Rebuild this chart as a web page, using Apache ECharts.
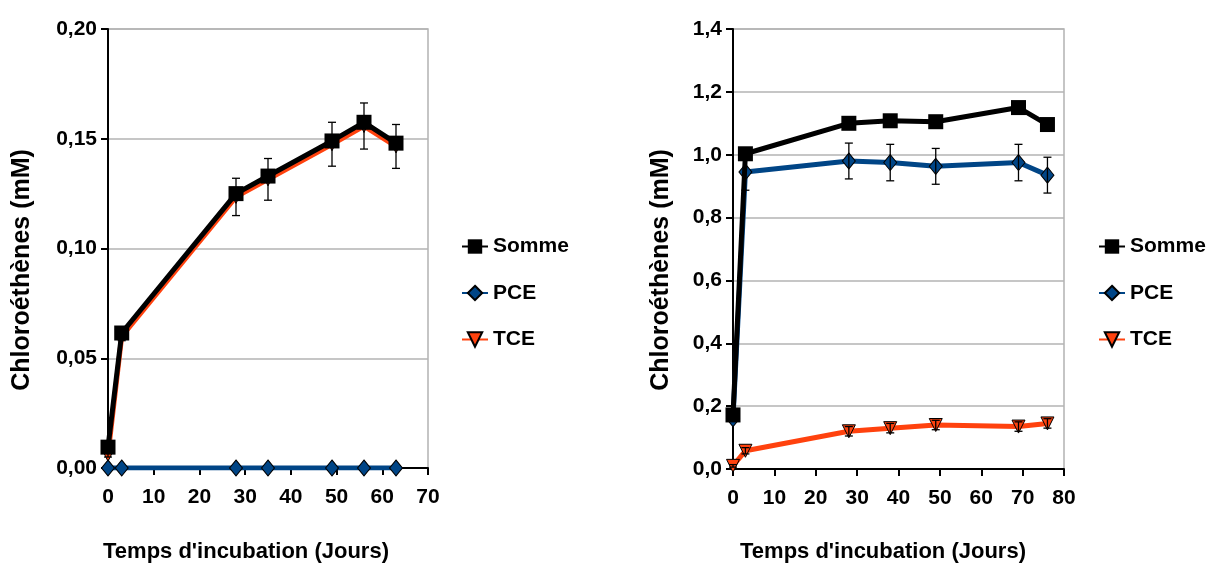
<!DOCTYPE html>
<html>
<head>
<meta charset="utf-8">
<script src="https://cdn.jsdelivr.net/npm/echarts@6/dist/echarts.min.js"></script>
<style>
html,body{margin:0;padding:0;background:#fff;}
#c{width:1210px;height:565px;}
</style>
</head>
<body>
<div id="c"></div>
<script>
// ---- Data ----
const seriesNames = ['Somme', 'PCE', 'TCE'];
const yTitle = 'Chloroéthènes (mM)';
const xTitle = "Temps d'incubation (Jours)";

// Left panel
const leftDays  = [0, 3, 28, 35, 49, 56, 63];
const leftSomme = [0.0095, 0.0615, 0.125, 0.133, 0.149, 0.1575, 0.148];
const leftPCE   = [0, 0, 0, 0, 0, 0, 0];
const leftTCE   = [0.006, 0.060, 0.1235, 0.1315, 0.1475, 0.1558, 0.1465];
const leftTCEErr = [0.001, 0.002, 0.0085, 0.0095, 0.010, 0.0105, 0.010];

// Right panel
const rightDays  = [0, 3, 28, 38, 49, 69, 76];
const rightSomme = [0.172, 1.003, 1.100, 1.108, 1.105, 1.150, 1.096];
const rightPCE   = [0.160, 0.945, 0.980, 0.975, 0.963, 0.975, 0.935];
const rightTCE   = [0.010, 0.058, 0.120, 0.130, 0.140, 0.135, 0.145];
const rightPCEErr = [0, 0.058, 0.057, 0.058, 0.057, 0.058, 0.057];
const rightTCEErr = [0.004, 0.010, 0.015, 0.015, 0.015, 0.015, 0.015];

// ---- Styles ----
const FONT = "'Liberation Sans', Arial, sans-serif";
const C_SOMME = '#000000', C_PCE = '#004586', C_TCE = '#ff420e';
const GRID_GRAY = '#b3b3b3';

function pairs(xs, ys) { return xs.map((x, i) => [x, ys[i]]); }
function errData(xs, ys, es) { return xs.map((x, i) => [x, ys[i] - es[i], ys[i] + es[i]]); }

function errRender(params, api) {
  const x = api.value(0), lo = api.value(1), hi = api.value(2);
  const pHi = api.coord([x, hi]), pLo = api.coord([x, lo]);
  const w = 4;
  const st = { stroke: '#000', lineWidth: 1.3 };
  return {
    type: 'group',
    children: [
      { type: 'line', shape: { x1: pHi[0], y1: pHi[1], x2: pLo[0], y2: pLo[1] }, style: st },
      { type: 'line', shape: { x1: pHi[0] - w, y1: pHi[1], x2: pHi[0] + w, y2: pHi[1] }, style: st },
      { type: 'line', shape: { x1: pLo[0] - w, y1: pLo[1], x2: pLo[0] + w, y2: pLo[1] }, style: st }
    ]
  };
}

function xAxis(gi, max) {
  return {
    type: 'value', gridIndex: gi, min: 0, max: max, interval: 10,
    axisLine: { show: true, lineStyle: { color: '#000', width: 2 } },
    axisTick: { show: true, length: 7, lineStyle: { color: '#000', width: 2 } },
    axisLabel: { color: '#000', fontFamily: FONT, fontWeight: 'bold', fontSize: 21, margin: 19 },
    splitLine: { show: false }
  };
}
function yAxis(gi, max, interval, dec) {
  return {
    type: 'value', gridIndex: gi, min: 0, max: max, interval: interval,
    axisLine: { show: true, onZero: false, lineStyle: { color: '#000', width: 2 } },
    axisTick: { show: true, length: 7, lineStyle: { color: '#000', width: 2 } },
    axisLabel: { color: '#000', fontFamily: FONT, fontWeight: 'bold', fontSize: 21, margin: 11,
      formatter: v => v.toFixed(dec).replace('.', ',') },
    splitLine: { show: true, lineStyle: { color: GRID_GRAY, width: 1.5 } }
  };
}

function lineSeries(name, gi, data, color, symbol, size, z, extra) {
  return Object.assign({
    name: name, type: 'line', xAxisIndex: gi, yAxisIndex: gi,
    data: data, color: color, symbol: symbol, symbolSize: size,
    lineStyle: { color: color, width: 5 },
    itemStyle: { color: color, borderColor: '#000', borderWidth: symbol === 'rect' ? 0 : 1 },
    z: z, animation: false
  }, extra || {});
}

function legend(left) {
  return {
    data: seriesNames, orient: 'vertical', left: left, top: 236, padding: 0,
    itemWidth: 26, itemHeight: 18, itemGap: 25.5,
    textStyle: { color: '#000', fontFamily: FONT, fontWeight: 'bold', fontSize: 21 },
    selectedMode: false
  };
}

function title(x, y, rot, size) {
  return { type: 'text', x: x, y: y, rotation: rot,
    style: { text: rot ? yTitle : xTitle, fontFamily: FONT, fontWeight: 'bold', fontSize: size,
      fill: '#000', align: 'center', verticalAlign: 'middle' } };
}

const chart = echarts.init(document.getElementById('c'), null, { renderer: 'canvas' });
chart.setOption({
  backgroundColor: '#fff',
  animation: false,
  grid: [
    { left: 108, top: 29, width: 320, height: 439, show: true, borderColor: GRID_GRAY, borderWidth: 1.5, backgroundColor: 'transparent' },
    { left: 733, top: 29, width: 331, height: 440, show: true, borderColor: GRID_GRAY, borderWidth: 1.5, backgroundColor: 'transparent' }
  ],
  xAxis: [xAxis(0, 70), xAxis(1, 80)],
  yAxis: [yAxis(0, 0.20, 0.05, 2), yAxis(1, 1.4, 0.2, 1)],
  legend: [legend(461), legend(1098)],
  graphic: [
    title(22, 270, Math.PI / 2, 25),
    title(661, 270, Math.PI / 2, 25),
    title(246, 552, 0, 22),
    title(883, 552, 0, 22)
  ],
  series: [
    // left panel
    lineSeries('TCE', 0, pairs(leftDays, leftTCE), C_TCE, 'triangle', 13, 2, { symbolRotate: 180 }),
    lineSeries('PCE', 0, pairs(leftDays, leftPCE), C_PCE, 'diamond', [13, 16], 3),
    lineSeries('Somme', 0, pairs(leftDays, leftSomme), C_SOMME, 'rect', 15, 4),
    { type: 'custom', name: 'errL', xAxisIndex: 0, yAxisIndex: 0, renderItem: errRender,
      data: errData(leftDays, leftTCE, leftTCEErr), encode: { x: 0, y: [1, 2] }, z: 6, silent: true },
    // right panel
    lineSeries('TCE', 1, pairs(rightDays, rightTCE), C_TCE, 'triangle', 13, 2, { symbolRotate: 180 }),
    lineSeries('PCE', 1, pairs(rightDays, rightPCE), C_PCE, 'diamond', [13, 16], 3),
    lineSeries('Somme', 1, pairs(rightDays, rightSomme), C_SOMME, 'rect', 15, 4),
    { type: 'custom', name: 'errR1', xAxisIndex: 1, yAxisIndex: 1, renderItem: errRender,
      data: errData(rightDays, rightPCE, rightPCEErr), encode: { x: 0, y: [1, 2] }, z: 6, silent: true },
    { type: 'custom', name: 'errR2', xAxisIndex: 1, yAxisIndex: 1, renderItem: errRender,
      data: errData(rightDays, rightTCE, rightTCEErr), encode: { x: 0, y: [1, 2] }, z: 6, silent: true }
  ]
});
</script>
</body>
</html>
